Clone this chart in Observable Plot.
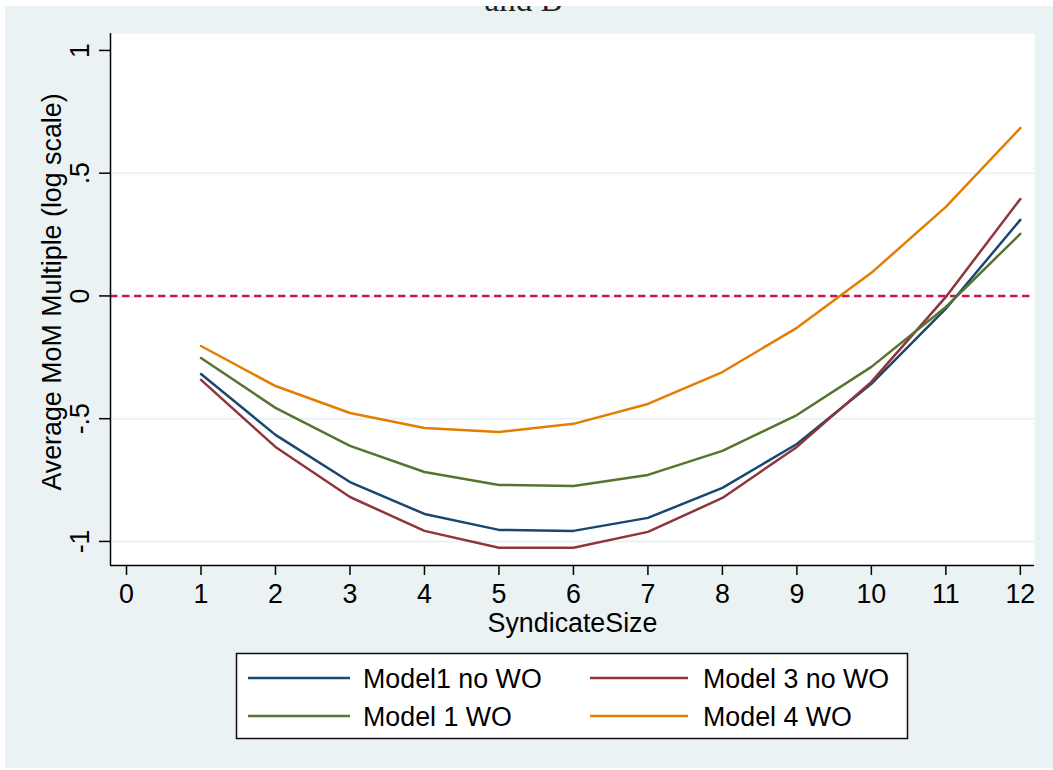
<!DOCTYPE html>
<html>
<head>
<meta charset="utf-8">
<script src="https://cdn.jsdelivr.net/npm/d3@7"></script>
<script src="https://cdn.jsdelivr.net/npm/@observablehq/plot@0.6"></script>
<style>
  html, body { margin: 0; padding: 0; background: #ffffff; width: 1053px; height: 770px; overflow: hidden; }
  #bg { position: absolute; left: 5px; top: 6px; width: 1048px; height: 762px; background: #eaf2f3; }
  #title { position: absolute; left: 0; top: 0; }
  #chart { position: absolute; left: 0; top: 0; }
  #legend { position: absolute; left: 0; top: 0; }
</style>
</head>
<body>
<div id="bg"></div>
<div id="chart"></div>
<div id="legend"></div>
<div id="title"></div>
<script>
// ---- data ----
const syndicateSize = [1, 2, 3, 4, 5, 6, 7, 8, 9, 10, 11, 12];
const model1NoWO = [-0.318, -0.566, -0.758, -0.888, -0.953, -0.957, -0.904, -0.782, -0.603, -0.358, -0.052, 0.310];
const model3NoWO = [-0.342, -0.615, -0.819, -0.957, -1.026, -1.026, -0.961, -0.823, -0.615, -0.350, -0.004, 0.395];
const model1WO   = [-0.253, -0.456, -0.611, -0.717, -0.770, -0.774, -0.729, -0.631, -0.485, -0.289, -0.045, 0.253];
const model4WO   = [-0.204, -0.367, -0.477, -0.538, -0.554, -0.521, -0.440, -0.310, -0.130, 0.094, 0.363, 0.684];
const seriesNames = ["Model1 no WO", "Model 3 no WO", "Model 1 WO", "Model 4 WO"];
const seriesColors = ["#1a476f", "#90353b", "#55752f", "#e37e00"];
const xTicks = [0, 1, 2, 3, 4, 5, 6, 7, 8, 9, 10, 11, 12];
const yTicks = [-1, -0.5, 0, 0.5, 1];
const yTickLabels = ["-1", "-.5", "0", ".5", "1"];
const gridValues = [-1, -0.5, 0.5];
const xTitle = "SyndicateSize";
const yTitle = "Average MoM Multiple (log scale)";
const titleText = "and B";

const seriesValues = [model1NoWO, model3NoWO, model1WO, model4WO];
const rows = [];
seriesValues.forEach((vals, i) => {
  vals.forEach((v, j) => rows.push({series: seriesNames[i], size: syndicateSize[j], value: v}));
});

const xDomain = [-0.215, 12.19];
const yDomain = [-1.098, 1.069];
const font = "'Liberation Sans', Arial, Helvetica, sans-serif";
const fs = 26.8;

const plot = Plot.plot({
  width: 1053,
  height: 640,
  marginLeft: 110,
  marginRight: 19,
  marginTop: 33,
  marginBottom: 75,
  style: {background: "transparent", fontFamily: font, fontSize: fs + "px", color: "black", overflow: "visible"},
  x: {domain: xDomain, label: null},
  y: {domain: yDomain, label: null},
  color: {domain: seriesNames, range: seriesColors},
  marks: [
    Plot.frame({fill: "white", stroke: "none"}),
    Plot.ruleY(gridValues, {stroke: "#eaf2f3", strokeWidth: 2}),
    Plot.ruleY([0], {stroke: "#c8174a", strokeWidth: 2.5, strokeDasharray: "7.5,4.5"}),
    ...seriesNames.map(name => Plot.line(rows.filter(d => d.series === name), {
      x: "size", y: "value", stroke: "series", strokeWidth: 2.5, strokeLinejoin: "round"
    })),
    Plot.ruleX([xDomain[0]], {stroke: "black", strokeWidth: 1.5}),
    Plot.ruleY([yDomain[0]], {stroke: "black", strokeWidth: 1.5}),
    Plot.axisX(xTicks, {tickSize: 10, tickPadding: 8, strokeWidth: 1.5, label: null, fontSize: fs}),
    Plot.axisY(yTicks, {tickSize: 11, strokeWidth: 1.5, tickFormat: () => "", label: null}),
    Plot.text(yTicks, {y: d => d, text: (d, i) => yTickLabels[i], frameAnchor: "left", dx: -30, rotate: -90, lineAnchor: "middle", textAnchor: "middle", fontSize: fs}),
    Plot.text([yTitle], {frameAnchor: "left", dx: -58, dy: -7.5, rotate: -90, lineAnchor: "middle", textAnchor: "middle", fontSize: fs}),
    Plot.text([xTitle], {frameAnchor: "bottom", dy: 47, lineAnchor: "top", textAnchor: "middle", fontSize: fs})
  ]
});
document.getElementById("chart").appendChild(plot);

// ---- title (clipped at top, as in the reference) ----
const tsvg = d3.select("#title").append("svg").attr("width", 1053).attr("height", 8);
tsvg.append("text").attr("x", 523.5).attr("y", 4.6).attr("text-anchor", "middle")
  .attr("font-family", "'Liberation Serif', 'DejaVu Serif', serif").attr("font-size", 33).attr("fill", "#222")
  .text(titleText);

// ---- legend ----
const lsvg = d3.select("#legend").append("svg").attr("width", 1053).attr("height", 770);
lsvg.append("rect").attr("x", 236.5).attr("y", 653.5).attr("width", 671).attr("height", 85)
  .attr("fill", "white").attr("stroke", "#111").attr("stroke-width", 1.5);
const legendPos = [
  {lx1: 248, lx2: 350, tx: 363, y: 678},
  {lx1: 590, lx2: 688, tx: 703, y: 678},
  {lx1: 248, lx2: 350, tx: 363, y: 716},
  {lx1: 590, lx2: 688, tx: 703, y: 716}
];
seriesNames.forEach((name, i) => {
  const p = legendPos[i];
  lsvg.append("line").attr("x1", p.lx1).attr("x2", p.lx2).attr("y1", p.y).attr("y2", p.y)
    .attr("stroke", seriesColors[i]).attr("stroke-width", 2.5);
  lsvg.append("text").attr("x", p.tx).attr("y", p.y + 9.7).attr("font-family", font)
    .attr("font-size", fs).attr("fill", "black").text(name);
});
</script>
</body>
</html>
